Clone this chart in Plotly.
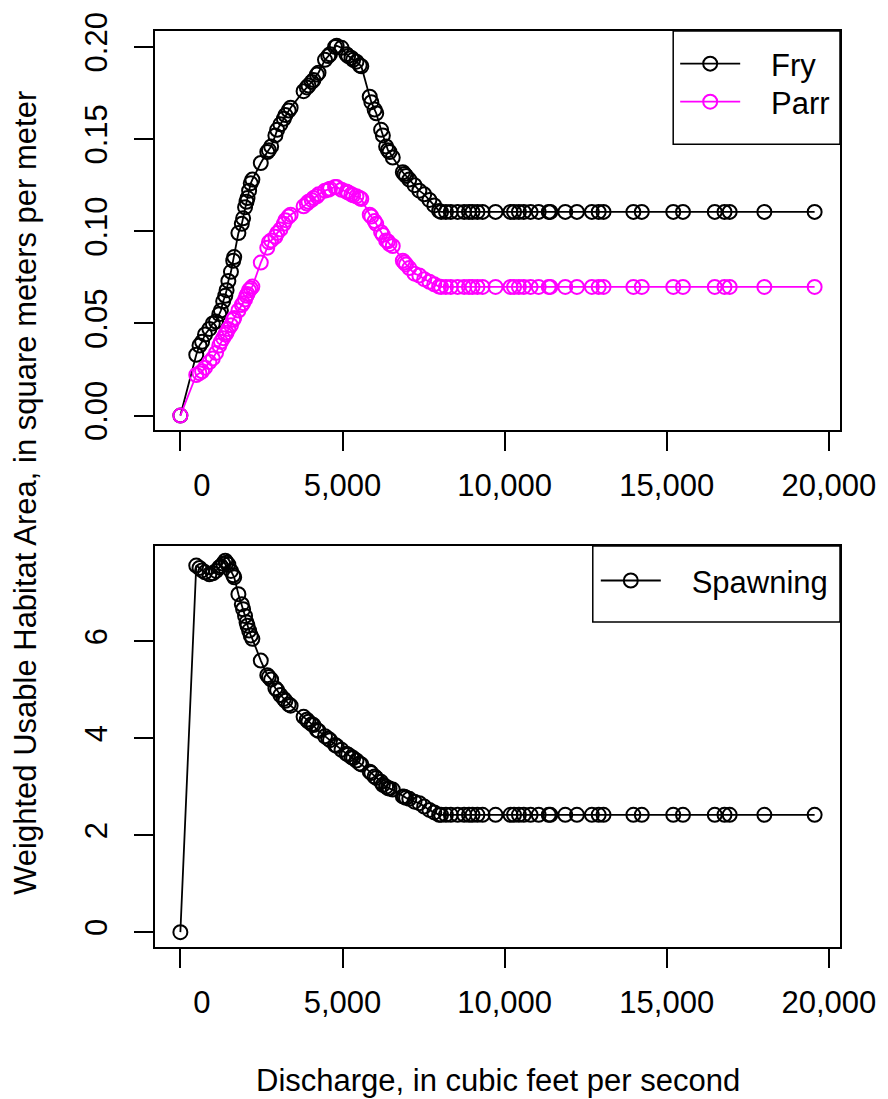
import plotly.graph_objects as go

# ---- data ----
discharge = [0, 490, 590, 670, 760, 895, 1000, 1100, 1200, 1250, 1320, 1385, 1425, 1480,
             1560, 1630, 1660, 1790, 1895, 1935, 1995, 2040, 2070, 2120, 2170, 2220,
             2480, 2680, 2730, 2800, 2930, 2985, 3085, 3190, 3240, 3340, 3400,
             3800, 3900, 3950, 4050, 4105, 4210, 4260, 4460, 4560, 4615, 4770, 4820,
             4970, 5120, 5175, 5275, 5330, 5430, 5530, 5580, 5840, 5890, 5990, 6040,
             6190, 6245, 6345, 6400, 6450, 6550, 6860, 6910, 6960, 7060, 7220, 7370,
             7520, 7680, 7830, 7980,
             8040, 8190, 8340, 8550, 8750, 8900, 9010, 9160, 9320, 9720, 10180, 10290,
             10440, 10590, 10800, 11050, 11360, 11410, 11870, 12230, 12690, 12900, 13050,
             13970, 14230, 15200, 15500, 16480, 16780, 16940, 18010, 19560]

fry = [0.0, 0.033, 0.038, 0.040, 0.044, 0.047, 0.050, 0.051, 0.055, 0.057, 0.062, 0.065,
       0.068, 0.073, 0.078, 0.084, 0.086, 0.099, 0.104, 0.107, 0.113, 0.116, 0.118, 0.122,
       0.126, 0.128, 0.137, 0.143, 0.144, 0.146, 0.152, 0.155, 0.158, 0.161, 0.163, 0.1655,
       0.167, 0.176, 0.178, 0.179, 0.181, 0.182, 0.185, 0.186, 0.193, 0.195, 0.196, 0.200,
       0.2006, 0.1995, 0.196, 0.195, 0.194, 0.193, 0.192, 0.190, 0.1895, 0.173, 0.170,
       0.166, 0.164, 0.155, 0.152, 0.146, 0.144, 0.143, 0.140, 0.132, 0.131, 0.130, 0.128,
       0.125, 0.122, 0.120, 0.117, 0.114, 0.111,
       0.1105, 0.1105, 0.1105, 0.1105, 0.1105, 0.1105, 0.1105, 0.1105, 0.1105, 0.1105,
       0.1105, 0.1105, 0.1105, 0.1105, 0.1105, 0.1105, 0.1105, 0.1105, 0.1105, 0.1105,
       0.1105, 0.1105, 0.1105, 0.1105, 0.1105, 0.1105, 0.1105, 0.1105, 0.1105, 0.1105,
       0.1105, 0.1105]

parr = [0.0, 0.022, 0.023, 0.024, 0.026, 0.029, 0.031, 0.034, 0.038, 0.040, 0.042, 0.044,
        0.045, 0.047, 0.049, 0.052, 0.053, 0.057, 0.060, 0.061, 0.063, 0.065, 0.066, 0.068,
        0.069, 0.070, 0.083, 0.091, 0.094, 0.095, 0.097, 0.099, 0.101, 0.104, 0.106, 0.108,
        0.109, 0.1135, 0.115, 0.116, 0.117, 0.118, 0.119, 0.120, 0.122, 0.1225, 0.123, 0.124,
        0.124, 0.1225, 0.1215, 0.121, 0.120, 0.1195, 0.119, 0.118, 0.1175, 0.109, 0.108,
        0.1055, 0.104, 0.0995, 0.098, 0.095, 0.0945, 0.093, 0.092, 0.084, 0.083, 0.082,
        0.080, 0.077, 0.076, 0.074, 0.0726, 0.0712, 0.070,
        0.0698, 0.0698, 0.0698, 0.0698, 0.0698, 0.0698, 0.0698, 0.0698, 0.0698, 0.0698,
        0.0698, 0.0698, 0.0698, 0.0698, 0.0698, 0.0698, 0.0698, 0.0698, 0.0698, 0.0698,
        0.0698, 0.0698, 0.0698, 0.0698, 0.0698, 0.0698, 0.0698, 0.0698, 0.0698, 0.0698,
        0.0698, 0.0698]

spawning = [0.0, 7.56, 7.51, 7.46, 7.42, 7.38, 7.40, 7.45, 7.52, 7.55, 7.60, 7.66, 7.62,
            7.58, 7.45, 7.36, 7.32, 6.97, 6.76, 6.66, 6.52, 6.39, 6.32, 6.22, 6.12, 6.05,
            5.60, 5.30, 5.26, 5.21, 5.03, 4.99, 4.89, 4.81, 4.77, 4.70, 4.67, 4.44, 4.38,
            4.34, 4.29, 4.27, 4.17, 4.15, 4.04, 3.99, 3.96, 3.86, 3.84, 3.76, 3.68, 3.66,
            3.61, 3.59, 3.54, 3.48, 3.46, 3.31, 3.28, 3.21, 3.18, 3.10, 3.04, 3.00, 2.97,
            2.96, 2.94, 2.80, 2.79, 2.77, 2.75, 2.69, 2.66, 2.59, 2.52, 2.47, 2.42,
            2.42, 2.42, 2.42, 2.42, 2.42, 2.42, 2.42, 2.42, 2.42, 2.42, 2.42, 2.42, 2.42,
            2.42, 2.42, 2.42, 2.42, 2.42, 2.42, 2.42, 2.42, 2.42, 2.42, 2.42, 2.42, 2.42,
            2.42, 2.42, 2.42, 2.42, 2.42, 2.42]

x_tickvals = [0, 5000, 10000, 15000, 20000]
x_ticktext = ["\u00a0" * 5 + "0", "5,000", "10,000", "15,000", "20,000"]
top_tickvals = [0, 0.05, 0.10, 0.15, 0.20]
top_ticktext = ["0.00", "0.05", "0.10", "0.15", "0.20"]
bot_tickvals = [0, 2, 4, 6]
bot_ticktext = ["0", "2", "4", "6"]

FONT = "Liberation Sans, Arial, Helvetica, sans-serif"
FS = 31
PAD = "\u00a0" * 3


def rng(vals):
    lo, hi = min(vals), max(vals)
    pad = 0.04 * (hi - lo)
    return [lo - pad, hi + pad]


def series(x, y, name, color, xa, ya, legend):
    return go.Scatter(
        x=x, y=y, name=PAD + name, mode="lines+markers", xaxis=xa, yaxis=ya, legend=legend,
        line=dict(color=color, width=1.8),
        marker=dict(symbol="circle-open", size=14, color=color, line=dict(width=2, color=color)),
    )


fig = go.Figure()
fig.add_trace(series(discharge, fry, "Fry", "black", "x", "y", "legend"))
fig.add_trace(series(discharge, parr, "Parr", "#FF00FF", "x", "y", "legend3"))
fig.add_trace(series(discharge, spawning, "Spawning", "black", "x2", "y2", "legend2"))

axis_common = dict(showline=True, mirror=True, linecolor="black", linewidth=1.5,
                   ticks="outside", ticklen=19, tickwidth=1.5, tickcolor="black",
                   showgrid=False, zeroline=False,
                   tickfont=dict(family=FONT, size=FS, color="black"))

legend_common = dict(xanchor="left", yanchor="middle", borderwidth=0,
                     bgcolor="rgba(0,0,0,0)", font=dict(family=FONT, size=FS, color="black"),
                     itemwidth=60, itemclick=False, itemdoubleclick=False)

xr = rng(discharge)
fig.update_layout(
    width=888, height=1099,
    margin=dict(l=155, r=43, t=25, b=152),
    paper_bgcolor="white", plot_bgcolor="white",
    font=dict(family=FONT, size=FS, color="black"),
    xaxis=dict(domain=[0, 1], anchor="y", range=xr, tickmode="array",
               tickvals=x_tickvals, ticktext=x_ticktext, ticklabelstandoff=8, **axis_common),
    yaxis=dict(domain=[0.564, 1], anchor="x", range=rng(fry), tickmode="array",
               tickvals=top_tickvals, ticktext=top_ticktext, tickangle=-90,
               ticklabelstandoff=15, **axis_common),
    xaxis2=dict(domain=[0, 1], anchor="y2", range=xr, tickmode="array",
                tickvals=x_tickvals, ticktext=x_ticktext, ticklabelstandoff=8, **axis_common),
    yaxis2=dict(domain=[0, 0.4379], anchor="x2", range=rng(spawning), tickmode="array",
                tickvals=bot_tickvals, ticktext=bot_ticktext, tickangle=-90,
                ticklabelstandoff=15, **axis_common),
    legend=dict(x=0.7594, y=0.9640, **legend_common),
    legend3=dict(x=0.7594, y=0.9225, **legend_common),
    legend2=dict(x=0.6435, y=0.3997, **legend_common),
    showlegend=True,
    shapes=[
        dict(type="rect", xref="paper", yref="paper", x0=0.7565, x1=1.0, y0=0.8764, y1=1.0,
             line=dict(color="black", width=1.5), fillcolor="rgba(0,0,0,0)", layer="above"),
        dict(type="rect", xref="paper", yref="paper", x0=0.6391, x1=1.0, y0=0.3547, y1=0.4379,
             line=dict(color="black", width=1.5), fillcolor="rgba(0,0,0,0)", layer="above"),
    ],
    annotations=[
        dict(text="Discharge, in cubic feet per second", xref="paper", yref="paper",
             x=0.5, y=-0.1453, xanchor="center", yanchor="middle", showarrow=False,
             font=dict(family=FONT, size=FS)),
        dict(text="Weighted Usable Habitat Area, in square meters per meter", xref="paper",
             yref="paper", x=-0.1884, y=0.4957, xanchor="center", yanchor="middle",
             textangle=-90, showarrow=False, font=dict(family=FONT, size=FS)),
    ],
)

fig.write_html("out.html", config={"displayModeBar": False},
               post_script="document.body.style.margin='0';")
